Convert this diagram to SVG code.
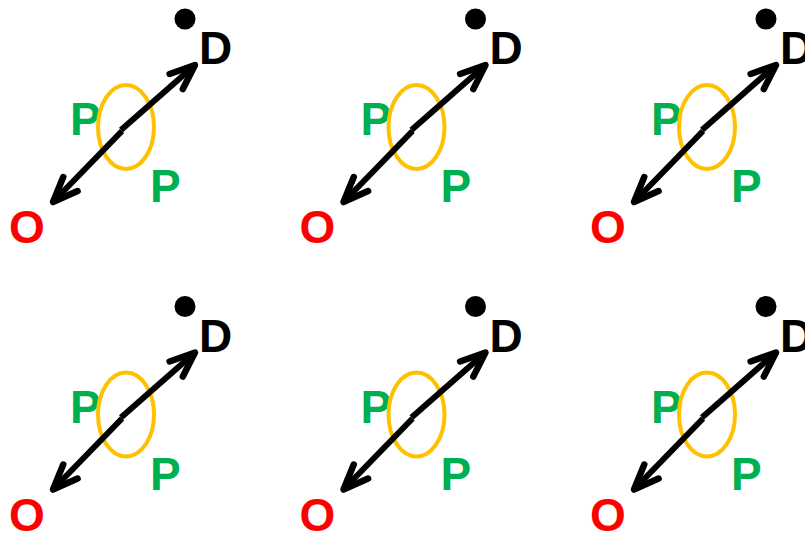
<svg xmlns="http://www.w3.org/2000/svg" width="805" height="538" viewBox="0 0 805 538">
  <style>
    .lbl { font-family: "Liberation Sans", Arial, sans-serif; font-weight: bold; font-size: 46px; }
    .d { fill: #000000; }
    .p { fill: #00B050; }
    .o { fill: #FF0000; }
    .ring { fill: none; stroke: #FFC000; stroke-width: 4; }
    .arr { fill: none; stroke: #000000; stroke-width: 6; marker-end: url(#head); }
  </style>
  <defs>
    <marker id="head" markerUnits="userSpaceOnUse" viewBox="-30 -16 34 32" refX="0" refY="0" markerWidth="34" markerHeight="32" orient="auto" overflow="visible">
      <path d="M-25,-10 L0,0 L-25,10" fill="none" stroke="#000000" stroke-width="6.5" stroke-linecap="round" stroke-linejoin="round"/>
    </marker>
  </defs>
  <rect width="805" height="538" fill="#ffffff"/>

  <g id="motif-1" transform="translate(0,0)">
    <g id="m1-dot"><circle cx="185" cy="19" r="10.5" fill="#000"/></g>
    <g id="m1-D"><text class="lbl d" x="199" y="64">D</text></g>
    <g id="m1-P1"><text class="lbl p" x="70" y="135">P</text></g>
    <g id="m1-P2"><text class="lbl p" x="150" y="202">P</text></g>
    <g id="m1-O"><text class="lbl o" x="9" y="243">O</text></g>
    <g id="m1-ring"><ellipse class="ring" cx="126" cy="127" rx="28" ry="42"/></g>
    <g id="m1-connectors">
      <path class="arr" d="M121,130 L195,65"/>
      <path class="arr" d="M122,131 L53,202"/>
    </g>
  </g>

  <g id="motif-2" transform="translate(290.5,0)">
    <g id="m2-dot"><circle cx="185" cy="19" r="10.5" fill="#000"/></g>
    <g id="m2-D"><text class="lbl d" x="199" y="64">D</text></g>
    <g id="m2-P1"><text class="lbl p" x="70" y="135">P</text></g>
    <g id="m2-P2"><text class="lbl p" x="150" y="202">P</text></g>
    <g id="m2-O"><text class="lbl o" x="9" y="243">O</text></g>
    <g id="m2-ring"><ellipse class="ring" cx="126" cy="127" rx="28" ry="42"/></g>
    <g id="m2-connectors">
      <path class="arr" d="M121,130 L195,65"/>
      <path class="arr" d="M122,131 L53,202"/>
    </g>
  </g>

  <g id="motif-3" transform="translate(581,0)">
    <g id="m3-dot"><circle cx="185" cy="19" r="10.5" fill="#000"/></g>
    <g id="m3-D"><text class="lbl d" x="199" y="64">D</text></g>
    <g id="m3-P1"><text class="lbl p" x="70" y="135">P</text></g>
    <g id="m3-P2"><text class="lbl p" x="150" y="202">P</text></g>
    <g id="m3-O"><text class="lbl o" x="9" y="243">O</text></g>
    <g id="m3-ring"><ellipse class="ring" cx="126" cy="127" rx="28" ry="42"/></g>
    <g id="m3-connectors">
      <path class="arr" d="M121,130 L195,65"/>
      <path class="arr" d="M122,131 L53,202"/>
    </g>
  </g>

  <g id="motif-4" transform="translate(0,287.5)">
    <g id="m4-dot"><circle cx="185" cy="19" r="10.5" fill="#000"/></g>
    <g id="m4-D"><text class="lbl d" x="199" y="64">D</text></g>
    <g id="m4-P1"><text class="lbl p" x="70" y="135">P</text></g>
    <g id="m4-P2"><text class="lbl p" x="150" y="202">P</text></g>
    <g id="m4-O"><text class="lbl o" x="9" y="243">O</text></g>
    <g id="m4-ring"><ellipse class="ring" cx="126" cy="127" rx="28" ry="42"/></g>
    <g id="m4-connectors">
      <path class="arr" d="M121,130 L195,65"/>
      <path class="arr" d="M122,131 L53,202"/>
    </g>
  </g>

  <g id="motif-5" transform="translate(290.5,287.5)">
    <g id="m5-dot"><circle cx="185" cy="19" r="10.5" fill="#000"/></g>
    <g id="m5-D"><text class="lbl d" x="199" y="64">D</text></g>
    <g id="m5-P1"><text class="lbl p" x="70" y="135">P</text></g>
    <g id="m5-P2"><text class="lbl p" x="150" y="202">P</text></g>
    <g id="m5-O"><text class="lbl o" x="9" y="243">O</text></g>
    <g id="m5-ring"><ellipse class="ring" cx="126" cy="127" rx="28" ry="42"/></g>
    <g id="m5-connectors">
      <path class="arr" d="M121,130 L195,65"/>
      <path class="arr" d="M122,131 L53,202"/>
    </g>
  </g>

  <g id="motif-6" transform="translate(581,287.5)">
    <g id="m6-dot"><circle cx="185" cy="19" r="10.5" fill="#000"/></g>
    <g id="m6-D"><text class="lbl d" x="199" y="64">D</text></g>
    <g id="m6-P1"><text class="lbl p" x="70" y="135">P</text></g>
    <g id="m6-P2"><text class="lbl p" x="150" y="202">P</text></g>
    <g id="m6-O"><text class="lbl o" x="9" y="243">O</text></g>
    <g id="m6-ring"><ellipse class="ring" cx="126" cy="127" rx="28" ry="42"/></g>
    <g id="m6-connectors">
      <path class="arr" d="M121,130 L195,65"/>
      <path class="arr" d="M122,131 L53,202"/>
    </g>
  </g>
</svg>
